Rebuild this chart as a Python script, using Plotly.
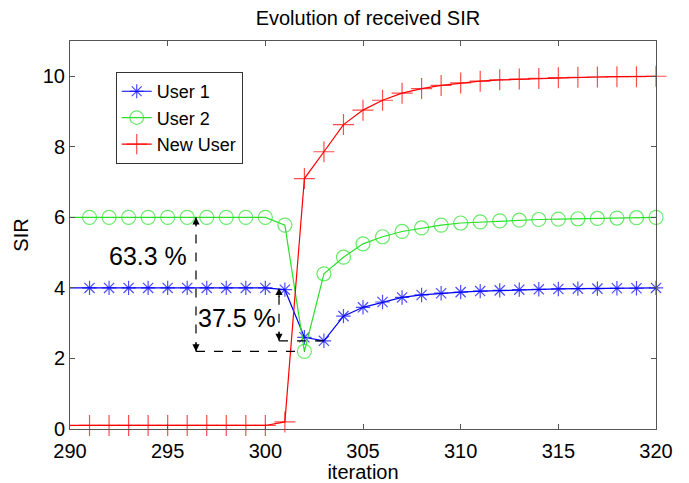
import plotly.graph_objects as go

iterations = [290, 291, 292, 293, 294, 295, 296, 297, 298, 299, 300,
              301, 302, 303, 304, 305, 306, 307, 308, 309, 310,
              311, 312, 313, 314, 315, 316, 317, 318, 319, 320]
user1 = [4.0, 4.0, 4.0, 4.0, 4.0, 4.0, 4.0, 4.0, 4.0, 4.0, 4.0,
         3.95, 2.6, 2.5, 3.2, 3.45, 3.6, 3.73, 3.8, 3.85, 3.88,
         3.91, 3.93, 3.95, 3.96, 3.97, 3.98, 3.98, 3.99, 3.99, 4.0]
user2 = [6.0, 6.0, 6.0, 6.0, 6.0, 6.0, 6.0, 6.0, 6.0, 6.0, 6.0,
         5.78, 2.2, 4.4, 4.87, 5.25, 5.45, 5.6, 5.7, 5.78, 5.84,
         5.87, 5.9, 5.92, 5.94, 5.95, 5.96, 5.97, 5.98, 5.99, 6.0]
new_user = [0.1, 0.1, 0.1, 0.1, 0.1, 0.1, 0.1, 0.1, 0.1, 0.1, 0.1,
            0.2, 7.1, 7.86, 8.63, 9.04, 9.32, 9.52, 9.65, 9.74, 9.81,
            9.86, 9.9, 9.92, 9.94, 9.96, 9.97, 9.98, 9.99, 9.99, 10.0]
x_ticks = [290, 295, 300, 305, 310, 315, 320]
y_ticks = [0, 2, 4, 6, 8, 10]

FONT = "Liberation Sans, Arial, sans-serif"
BLUE = "rgb(0,0,255)"
GREEN = "rgb(40,225,40)"
RED = "rgb(255,0,0)"

def sizes(n, s):
    return [0] + [s] * (n - 1)

fig = go.Figure()
series = [
    ("User 1", user1, BLUE, "asterisk-open", 12),
    ("User 2", user2, GREEN, "circle-open", 14),
    ("New User", new_user, RED, "cross-thin-open", 15),
]
for name, vals, col, sym, sz in series:
    fig.add_trace(go.Scatter(
        x=iterations, y=vals, name=name, mode="lines+markers",
        line=dict(color=col, width=1.2),
        marker=dict(symbol=sym, size=sizes(len(vals), sz), color=col,
                    line=dict(color=col, width=1.2)),
        cliponaxis=False,
    ))

# Annotations derived from data
u2_top = user2[0]
u2_min = min(user2)
u2_min_x = iterations[user2.index(u2_min)]
u1_top = user1[0]
u1_min = min(user1)
u1_min_x = iterations[user1.index(u1_min)]
pct2 = (u2_top - u2_min) / u2_top * 100
pct1 = (u1_top - u1_min) / u1_top * 100

arr1_x = 296.45
arr2_x = 300.7
dash = dict(color="black", width=1.2, dash="dash")
fig.add_shape(type="line", x0=arr1_x, x1=arr1_x, y0=u2_min, y1=u2_top, line=dash)
fig.add_shape(type="line", x0=arr1_x, x1=u2_min_x, y0=u2_min, y1=u2_min, line=dash)
fig.add_shape(type="line", x0=arr2_x, x1=arr2_x, y0=u1_min, y1=u1_top, line=dash)
fig.add_shape(type="line", x0=arr2_x, x1=u1_min_x, y0=u1_min, y1=u1_min, line=dash)

def head(x, y, tail_y):
    fig.add_annotation(x=x, y=y, ax=x, ay=tail_y, axref="x", ayref="y",
                       xref="x", yref="y", text="", showarrow=True,
                       arrowhead=2, arrowsize=1.3, arrowwidth=1.1,
                       arrowcolor="black")

head(arr1_x, u2_top, u2_top - 0.3)
head(arr1_x, u2_min, u2_min + 0.3)
head(arr2_x, u1_top, u1_top - 0.3)
head(arr2_x, u1_min, u1_min + 0.3)

fig.add_annotation(x=294.0, y=4.9, text=f"{pct2:.1f} %", showarrow=False,
                   font=dict(family=FONT, size=25, color="black"))
fig.add_annotation(x=298.55, y=3.15, text=f"{pct1:.1f} %", showarrow=False,
                   font=dict(family=FONT, size=25, color="black"))

axis_common = dict(
    showline=True, linecolor="#555555", linewidth=1, mirror="ticks",
    ticks="inside", ticklen=5, tickcolor="#555555", showgrid=False,
    zeroline=False, automargin=False,
    tickfont=dict(family=FONT, size=20, color="black"),
)
fig.update_xaxes(range=[290, 320], tickvals=x_ticks, ticklabelstandoff=4,
                 title=dict(text="iteration", font=dict(family=FONT, size=20, color="black"), standoff=0),
                 **axis_common)
fig.update_yaxes(range=[0, 11], tickvals=y_ticks,
                 title=dict(text="SIR", font=dict(family=FONT, size=20, color="black"), standoff=8),
                 **axis_common)

fig.update_layout(
    width=689, height=483,
    margin=dict(l=70, r=33, t=41, b=54),
    paper_bgcolor="white", plot_bgcolor="white",
    title=dict(text="Evolution of received SIR", x=0.534, xanchor="center",
               y=0.963, yanchor="middle",
               font=dict(family=FONT, size=20, color="black")),
    legend=dict(x=0.078, y=0.92, xanchor="left", yanchor="top",
                bgcolor="white", bordercolor="#333333", borderwidth=1,
                font=dict(family=FONT, size=18, color="black"),
                itemwidth=30, tracegroupgap=0),
    showlegend=True,
)

fig.write_html("out.html")
